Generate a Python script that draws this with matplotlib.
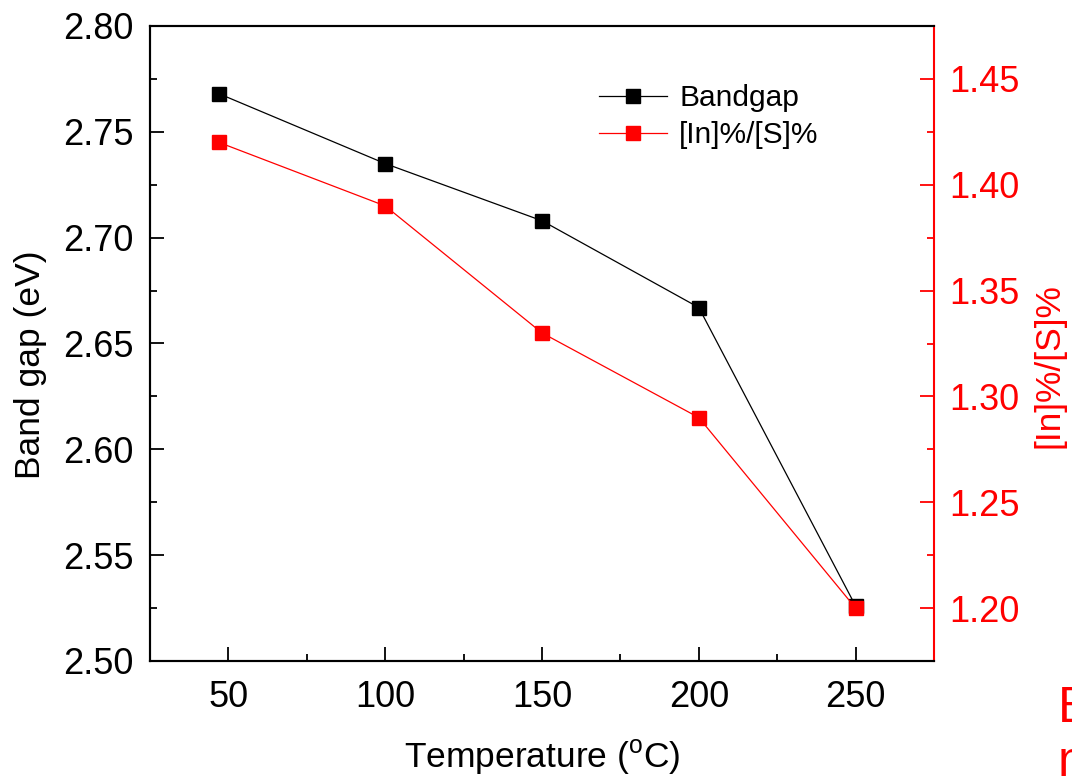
import matplotlib.pyplot as plt
from matplotlib.ticker import MultipleLocator

plt.rcParams['font.family'] = ['Liberation Sans', 'DejaVu Sans']

temps = [47, 100, 150, 200, 250]
bandgap = [2.768, 2.735, 2.708, 2.667, 2.526]
ratio = [1.42, 1.39, 1.33, 1.29, 1.20]

fig = plt.figure(figsize=(10.72, 7.78), dpi=100)
ax = fig.add_axes([150 / 1072, 1 - 661 / 778, 784 / 1072, 635 / 778])
ax2 = ax.twinx()

l1, = ax.plot(temps, bandgap, color='black', lw=0.9, marker='s', ms=10,
              label='Bandgap')
l2, = ax2.plot(temps, ratio, color='red', lw=0.9, marker='s', ms=10,
               label='[In]%/[S]%')

ax.set_xlim(25, 275)
ax.set_ylim(2.50, 2.80)
ax2.set_ylim(1.175, 1.475)

ax.xaxis.set_major_locator(MultipleLocator(50))
ax.xaxis.set_minor_locator(MultipleLocator(25))
ax.yaxis.set_major_locator(MultipleLocator(0.05))
ax.yaxis.set_minor_locator(MultipleLocator(0.025))
ax2.yaxis.set_major_locator(MultipleLocator(0.05))
ax2.yaxis.set_minor_locator(MultipleLocator(0.025))
ax.yaxis.set_major_formatter(plt.FormatStrFormatter('%.2f'))
ax2.yaxis.set_major_formatter(plt.FormatStrFormatter('%.2f'))

ax.tick_params(which='both', direction='in', labelsize=26, width=1.3)
ax.tick_params(which='major', length=10)
ax.tick_params(which='minor', length=5)
ax.tick_params(axis='y', which='major', pad=12)
ax.tick_params(axis='x', which='major', pad=14)
ax2.tick_params(which='both', direction='in', labelsize=26, width=1.3,
                colors='red')
ax2.tick_params(which='major', length=10, pad=11)
ax2.tick_params(which='minor', length=5)

for s in ['left', 'bottom', 'top']:
    ax.spines[s].set_linewidth(1.5)
    ax2.spines[s].set_linewidth(1.5)
ax2.spines['right'].set_color('red')
ax2.spines['right'].set_linewidth(1.5)
ax.spines['right'].set_visible(False)

ax.set_xlabel('Temperature ($^{\\mathregular{o}}$C)', fontsize=25.5, labelpad=16)
ax.set_ylabel('Band gap (eV)', fontsize=25.5)
ax2.set_ylabel('[In]%/[S]%', fontsize=25.5, color='red')
ax.yaxis.set_label_coords(-0.131, 0.466)
ax2.yaxis.set_label_coords(1.126, 0.466)

ax2.legend(handles=[l1, l2], loc='upper left', bbox_to_anchor=(0.558, 0.927),
           frameon=False, fontsize=21.5, handlelength=2.27, handletextpad=0.4,
           labelspacing=0.3, borderaxespad=0)

fig.text(1058 / 1072, 1 - 722 / 778, 'B', color='red', fontsize=36,
         ha='left', va='baseline')
fig.text(1058 / 1072, 1 - 776 / 778, 'm', color='red', fontsize=36,
         ha='left', va='baseline')

fig.savefig('out.png', dpi=100)
